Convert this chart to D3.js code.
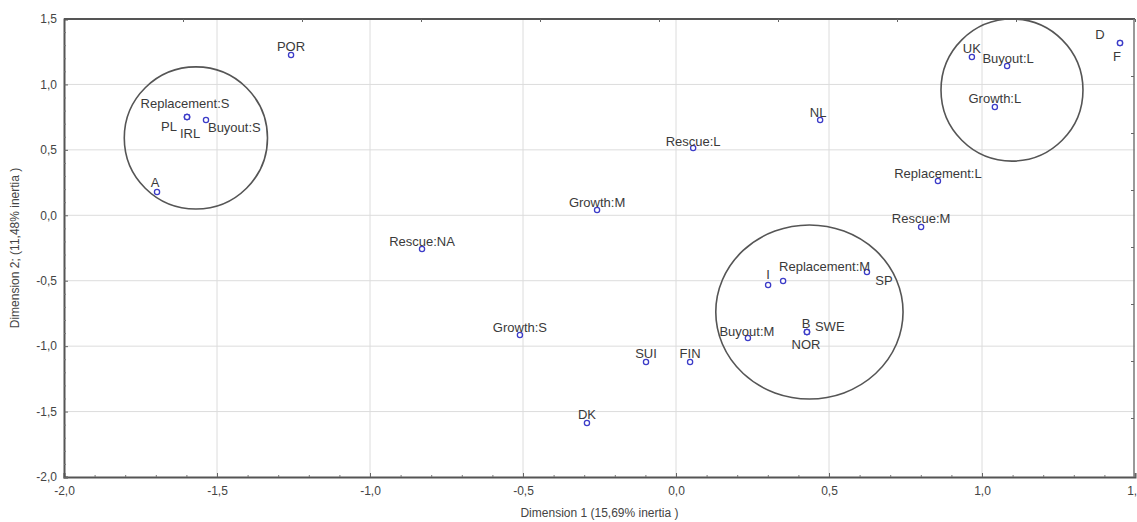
<!DOCTYPE html>
<html>
<head>
<meta charset="utf-8">
<script src="https://cdn.jsdelivr.net/npm/d3@7/dist/d3.min.js"></script>
<style>
  html, body { margin: 0; padding: 0; background: #fff; }
  svg { display: block; font-family: "Liberation Sans", Arial, sans-serif; }
</style>
</head>
<body>
<svg id="chart" width="1137" height="522"></svg>
<script>
// ---- Data ----
const pointNames = ["POR","Replacement:S","PL","IRL","Buyout:S","A","Rescue:NA","Growth:M","Rescue:L","NL",
  "UK","Buyout:L","Growth:L","D","F","Replacement:L","Rescue:M","I","Replacement:M","SP",
  "B","SWE","NOR","Buyout:M","Growth:S","SUI","FIN","DK"];
const dim1 = [-1.258,-1.598,-1.598,-1.598,-1.536,-1.696,-0.830,-0.258,0.056,0.471,
  0.967,1.082,1.042,1.451,1.451,0.856,0.801,0.301,0.350,0.624,
  0.428,0.428,0.428,0.235,-0.510,-0.098,0.046,-0.291];
const dim2 = [1.225,0.751,0.751,0.751,0.728,0.178,-0.258,0.040,0.514,0.728,
  1.210,1.141,0.828,1.317,1.317,0.262,-0.089,-0.533,-0.502,-0.433,
  -0.892,-0.892,-0.892,-0.938,-0.915,-1.121,-1.121,-1.587];

const circleCx = [-1.569, 1.098, 0.436];
const circleCy = [0.591, 0.957, -0.739];
const circleRx = [0.234, 0.232, 0.306];   // in Dimension 1 units
const circleRy = [0.543, 0.543, 0.665];   // in Dimension 2 units

const xTicks = [-2.0,-1.5,-1.0,-0.5,0.0,0.5,1.0,1.5];
const yTicks = [-2.0,-1.5,-1.0,-0.5,0.0,0.5,1.0,1.5];
const xTitle = "Dimension 1 (15,69% inertia )";
const yTitle = "Dimension 2; (11,48% inertia )";

// ---- Label layout (pixel offsets, style only) ----
const labelLayout = {
  "Replacement:S": {dx:-2, dy:-14, a:"middle"},
  "PL": {dx:-18, dy:9, a:"middle"},
  "IRL": {dx:3, dy:16, a:"middle"},
  "Buyout:S": {dx:2, dy:7, a:"start"},
  "NL": {dx:-2, dy:-8, a:"middle"},
  "D": {dx:-20, dy:-8, a:"middle"},
  "F": {dx:-3, dy:14, a:"middle"},
  "I": {dx:0, dy:-11, a:"middle"},
  "Replacement:M": {dx:-4, dy:-14, a:"start"},
  "SP": {dx:17, dy:9, a:"middle"},
  "B": {dx:-1, dy:-9, a:"middle"},
  "SWE": {dx:8, dy:-6, a:"start"},
  "NOR": {dx:-1, dy:12, a:"middle"},
  "Buyout:M": {dx:-1, dy:-7, a:"middle"},
  "Rescue:L": {dx:0, dy:-7, a:"middle"},
  "Buyout:L": {dx:1, dy:-7, a:"middle"},
  "A": {dx:-2, dy:-9, a:"middle"}
};
const defaultLayout = {dx:0, dy:-8, a:"middle"};

// ---- Chart ----
const W = 1137, H = 522;
const margin = {left: 64, right: 2, top: 19, bottom: 45};
const svg = d3.select("#chart");
const x = d3.scaleLinear().domain([-2, 1.5]).range([margin.left, W - margin.right]);
const y = d3.scaleLinear().domain([-2, 1.5]).range([H - margin.bottom, margin.top]);
const fmt = d => d3.format(".1f")(d).replace(".", ",").replace("−","-");

// grid
const g = svg.append("g");
g.selectAll("line.vg").data(xTicks.filter(t => t > -2 && t < 1.5)).join("line")
  .attr("x1", d => x(d)).attr("x2", d => x(d))
  .attr("y1", y(1.5)).attr("y2", y(-2))
  .attr("stroke", "#dcdcdc").attr("stroke-width", 1);
g.selectAll("line.hg").data(yTicks.filter(t => t > -2 && t < 1.5)).join("line")
  .attr("y1", d => y(d)).attr("y2", d => y(d))
  .attr("x1", x(-2)).attr("x2", x(1.5))
  .attr("stroke", "#dcdcdc").attr("stroke-width", 1);

// axes (frame)
const xAxis = d3.axisBottom(x).tickValues(xTicks).tickFormat(fmt).tickSize(-4).tickPadding(9);
const yAxis = d3.axisLeft(y).tickValues(yTicks).tickFormat(fmt).tickSize(-4).tickPadding(7);
const gx = svg.append("g").attr("transform", `translate(0,${y(-2)})`).call(xAxis);
const gy = svg.append("g").attr("transform", `translate(${x(-2)},0)`).call(yAxis);
[gx, gy].forEach(ax => {
  ax.select(".domain").attr("stroke", "#555").attr("stroke-width", 2);
  ax.selectAll(".tick line").attr("stroke", "#666");
  ax.selectAll(".tick text").attr("fill", "#444").attr("font-size", 12);
});
// minor ticks
const minorX = d3.range(-19, 15).map(i => i / 10).filter(v => Math.abs(v * 2 - Math.round(v * 2)) > 1e-6);
svg.append("g").attr("transform", `translate(0,${y(-2)})`)
  .call(d3.axisBottom(x).tickValues(minorX).tickFormat("").tickSize(-2))
  .call(s => { s.select(".domain").remove(); s.selectAll("line").attr("stroke", "#777"); });
const minorY = d3.range(-19, 15).map(i => i / 10).filter(v => Math.abs(v * 2 - Math.round(v * 2)) > 1e-6);
svg.append("g").attr("transform", `translate(${x(-2)},0)`)
  .call(d3.axisLeft(y).tickValues(minorY).tickFormat("").tickSize(-2))
  .call(s => { s.select(".domain").remove(); s.selectAll("line").attr("stroke", "#777"); });

// top and right frame with their own tick marks
const xTop = d3.scaleLinear().domain([0, 9]).range([x(-2) + 0, x(-2) + 119 * 9]);
svg.append("g").attr("transform", `translate(0,${y(1.5)})`)
  .call(d3.axisTop(xTop).tickValues(d3.range(1, 10)).tickFormat("").tickSize(-3).tickSizeOuter(0))
  .call(s => { s.select(".domain").attr("d", `M${x(-2)},0H${x(1.5)}`).attr("stroke", "#555").attr("stroke-width", 2); s.selectAll("line").attr("stroke", "#666"); });
const yRight = d3.scaleLinear().domain([0, 9]).range([y(1.5), y(1.5) + 57 * 9]);
svg.append("g").attr("transform", `translate(${x(1.5) - 1},0)`)
  .call(d3.axisRight(yRight).tickValues(d3.range(1, 8)).tickFormat("").tickSize(-3).tickSizeOuter(0))
  .call(s => { s.select(".domain").attr("d", `M0,${y(1.5)}V${y(-2)}`).attr("stroke", "#777").attr("stroke-width", 1.5); s.selectAll("line").attr("stroke", "#666"); });

// axis titles
svg.append("text").attr("x", (x(-2) + x(1.5)) / 2).attr("y", 517)
  .attr("text-anchor", "middle").attr("font-size", 12).attr("fill", "#444").text(xTitle);
svg.append("text").attr("transform", `translate(19,${(y(1.5) + y(-2)) / 2}) rotate(-90)`)
  .attr("text-anchor", "middle").attr("font-size", 12).attr("fill", "#444").text(yTitle);

// circles
svg.append("g").selectAll("ellipse").data(circleCx).join("ellipse")
  .attr("cx", (d, i) => x(d))
  .attr("cy", (d, i) => y(circleCy[i]))
  .attr("rx", (d, i) => x(d + circleRx[i]) - x(d))
  .attr("ry", (d, i) => y(circleCy[i] - circleRy[i]) - y(circleCy[i]))
  .attr("fill", "none").attr("stroke", "#555").attr("stroke-width", 1.6);

// points
const pts = pointNames.map((n, i) => ({name: n, d1: dim1[i], d2: dim2[i]}));
svg.append("g").selectAll("circle").data(pts).join("circle")
  .attr("cx", d => x(d.d1)).attr("cy", d => y(d.d2)).attr("r", 2.6)
  .attr("fill", "#fff").attr("stroke", "#3c3cc8").attr("stroke-width", 1.3);

// labels
svg.append("g").selectAll("text").data(pts).join("text")
  .each(function(d) {
    const L = labelLayout[d.name] || defaultLayout;
    d3.select(this)
      .attr("x", x(d.d1) + L.dx).attr("y", y(d.d2) + L.dy)
      .attr("text-anchor", L.a).attr("dominant-baseline", "central");
  })
  .attr("font-size", 13).attr("fill", "#3a3a3a")
  .text(d => d.name);
</script>
</body>
</html>
